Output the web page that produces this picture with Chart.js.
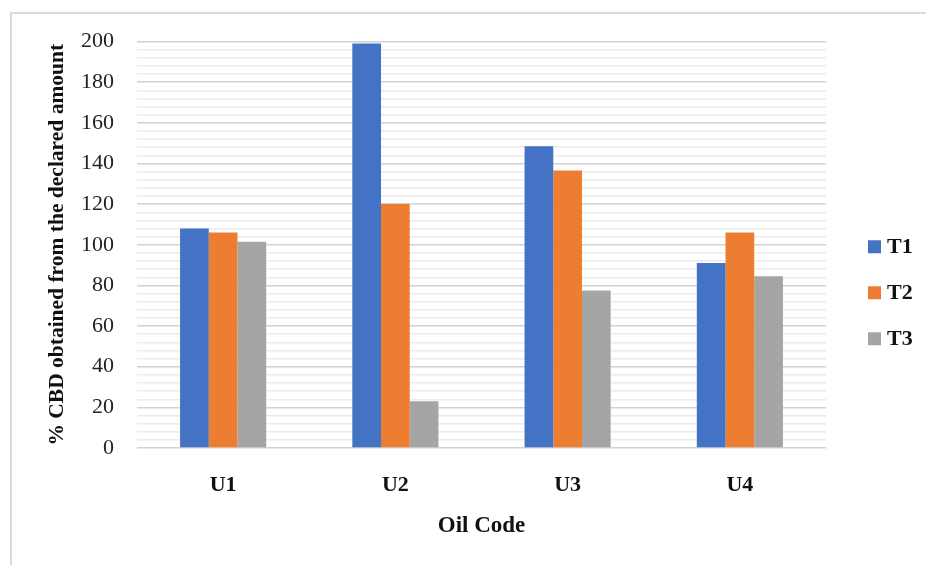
<!DOCTYPE html>
<html>
<head>
<meta charset="utf-8">
<script src="https://cdn.jsdelivr.net/npm/chart.js@4/dist/chart.umd.min.js"></script>
<style>
  html, body { margin: 0; padding: 0; background: #ffffff; overflow: hidden; }
  #wrap { position: relative; width: 926px; height: 565px; }
  #frame {
    position: absolute; left: 10px; top: 12px; width: 940px; height: 580px;
    border-left: 2px solid #dadada; border-top: 2px solid #dadada;
  }
  canvas { position: absolute; left: 0; top: 0; }
</style>
</head>
<body>
<div id="wrap">
  <div id="frame"></div>
  <canvas id="chart" width="926" height="565"></canvas>
</div>
<script>
// Oil samples and the three tests
const categories = ['U1', 'U2', 'U3', 'U4'];
const seriesNames = ['T1', 'T2', 'T3'];
const t1Values = [108, 199, 148.5, 91];
const t2Values = [106, 120, 136.5, 106];
const t3Values = [101.5, 23, 77.5, 84.5];
const seriesColors = ['#4472C4', '#ED7D31', '#A5A5A5'];
const yMin = 0, yMax = 200, yStep = 4, yLabelEvery = 20;

const serif = "'Liberation Serif', 'Times New Roman', serif";

// Legend drawn to the right of the plot, stacked vertically
const sideLegend = {
  id: 'sideLegend',
  afterDraw(chart) {
    const { ctx, chartArea } = chart;
    const firstY = (chartArea.top + chartArea.bottom) / 2 + 2;
    const step = 46;
    ctx.save();
    ctx.font = "bold 22px " + serif;
    ctx.textBaseline = 'middle';
    ctx.textAlign = 'left';
    chart.data.datasets.forEach((ds, i) => {
      const cy = firstY + i * step;
      const bx = chartArea.right + 42;
      ctx.fillStyle = ds.backgroundColor;
      ctx.fillRect(bx, cy - 6.5, 13, 13);
      ctx.fillStyle = '#111111';
      ctx.fillText(ds.label, bx + 19, cy + 1);
    });
    ctx.restore();
  }
};

const valuesBySeries = [t1Values, t2Values, t3Values];

new Chart(document.getElementById('chart'), {
  type: 'bar',
  data: {
    labels: categories,
    datasets: seriesNames.map((name, i) => ({
      label: name,
      data: valuesBySeries[i],
      backgroundColor: seriesColors[i],
      borderWidth: 0,
      categoryPercentage: 0.5,
      barPercentage: 1.0
    }))
  },
  options: {
    responsive: false,
    animation: false,
    devicePixelRatio: 1,
    layout: { padding: { left: 0, top: 41.5, right: 100, bottom: 0 } },
    plugins: {
      legend: { display: false },
      tooltip: { enabled: false }
    },
    scales: {
      x: {
        grid: { display: false, drawTicks: false },
        border: { display: false },
        ticks: {
          padding: 24,
          color: '#111111',
          font: { family: serif, size: 22, weight: 'bold' }
        },
        title: {
          display: true,
          text: 'Oil Code',
          color: '#111111',
          font: { family: serif, size: 23, weight: 'bold' },
          padding: { top: 0, bottom: 25 }
        },
        afterFit(scale) { scale.height = 117; }
      },
      y: {
        min: yMin,
        max: yMax,
        grid: {
          drawTicks: false,
          color: c => (c.tick && c.tick.value % yLabelEvery === 0) ? '#d2d2d2' : '#ececec',
          lineWidth: c => (c.tick && c.tick.value % yLabelEvery === 0) ? 1.6 : 1.4
        },
        border: { display: false },
        ticks: {
          stepSize: yStep,
          autoSkip: false,
          padding: 23,
          color: '#222222',
          font: { family: serif, size: 22 },
          callback: v => (v % yLabelEvery === 0) ? String(v) : ''
        },
        title: {
          display: true,
          text: '% CBD obtained from the declared amount',
          color: '#111111',
          font: { family: serif, size: 21.5, weight: 'bold' },
          padding: { top: 44.2, bottom: 0 }
        },
        afterFit(scale) { scale.width = 137; }
      }
    }
  },
  plugins: [sideLegend]
});
</script>
</body>
</html>
